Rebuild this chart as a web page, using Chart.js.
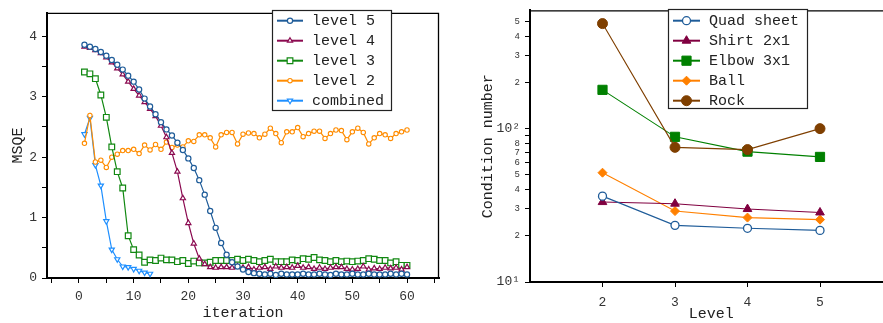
<!DOCTYPE html>
<html>
<head>
<meta charset="utf-8">
<script src="https://cdn.jsdelivr.net/npm/chart.js@4.4.0/dist/chart.umd.min.js"></script>
<style>
  html, body { margin: 0; padding: 0; background: #fff; overflow: hidden; width: 883px; height: 323px; }
  #izq { position: absolute; left: 0; top: 0; }
  #der { position: absolute; left: 460px; top: 0; }
</style>
</head>
<body>
<canvas id="izq" width="460" height="323"></canvas>
<canvas id="der" width="440" height="323"></canvas>
<script>
const FUENTE = '"Liberation Mono", "Courier New", monospace';

// ---- grafico izquierdo: MSQE por iteracion ----
const iteraciones = Array.from({ length: 60 }, (_, i) => i + 1);
const level5 = [3.86, 3.83, 3.79, 3.74, 3.68, 3.61, 3.53, 3.45, 3.35, 3.25, 3.12, 2.97, 2.84, 2.71, 2.58, 2.46,
  2.36, 2.24, 2.12, 1.98, 1.82, 1.62, 1.38, 1.11, 0.83, 0.58, 0.385, 0.26, 0.19, 0.14, 0.10, 0.08,
  0.07, 0.06, 0.07, 0.05, 0.07, 0.06, 0.06, 0.06, 0.07, 0.06, 0.06, 0.07, 0.06, 0.05, 0.07, 0.06,
  0.06, 0.07, 0.06, 0.06, 0.07, 0.06, 0.06, 0.06, 0.07, 0.06, 0.07, 0.06];
const level4 = [3.83, 3.81, 3.77, 3.72, 3.65, 3.57, 3.47, 3.37, 3.25, 3.13, 3.02, 2.91, 2.80, 2.68, 2.52, 2.33,
  2.07, 1.76, 1.32, 0.91, 0.57, 0.32, 0.23,
  0.18, 0.17, 0.18, 0.18, 0.17, 0.19, 0.17, 0.18, 0.14, 0.17, 0.18, 0.15, 0.19, 0.17, 0.18, 0.17,
  0.20, 0.17, 0.18, 0.15, 0.17, 0.15, 0.17, 0.18, 0.18, 0.15, 0.14, 0.15, 0.19, 0.14, 0.16, 0.15,
  0.17, 0.16, 0.17, 0.14, 0.18];
const level3 = [3.41, 3.38, 3.30, 3.03, 2.66, 2.17, 1.76, 1.49, 0.70, 0.47, 0.38, 0.26, 0.30, 0.29, 0.33, 0.30,
  0.30, 0.27, 0.29, 0.24, 0.28, 0.25,
  0.25, 0.26, 0.29, 0.29, 0.29, 0.29, 0.31, 0.29, 0.31, 0.29, 0.27, 0.29, 0.31, 0.27, 0.27, 0.27,
  0.30, 0.29, 0.32, 0.31, 0.34, 0.30, 0.29, 0.27, 0.29, 0.27, 0.28, 0.27, 0.28, 0.29, 0.32, 0.31,
  0.29, 0.29, 0.25, 0.27, 0.21, 0.21];
const level2 = [2.23, 2.69, 1.92, 1.95, 1.83, 2.00, 2.05, 2.11, 2.11, 2.13, 2.06, 2.20, 2.12, 2.21, 2.13, 2.25,
  2.16, 2.20, 2.17, 2.27, 2.26, 2.37,
  2.37, 2.32, 2.17, 2.37, 2.41, 2.41, 2.22, 2.38, 2.40, 2.39, 2.32, 2.38, 2.48, 2.39, 2.24, 2.42,
  2.42, 2.49, 2.34, 2.39, 2.43, 2.43, 2.31, 2.39, 2.45, 2.44, 2.29, 2.42, 2.48, 2.41, 2.22, 2.32,
  2.39, 2.37, 2.31, 2.39, 2.42, 2.45];
const combined = [2.38, 2.65, 1.87, 1.53, 0.94, 0.47, 0.31, 0.19, 0.18, 0.15, 0.12, 0.09, 0.07];

const xTicksIzq = [-5, 0, 5, 10, 15, 20, 25, 30, 35, 40, 45, 50, 55, 60, 65];
const xEtiquetasIzq = [0, 10, 20, 30, 40, 50, 60];
const yTicksIzq = [0, 0.5, 1, 1.5, 2, 2.5, 3, 3.5, 4];
const yEtiquetasIzq = [0, 1, 2, 3, 4];

// ---- grafico derecho: numero de condicion por nivel ----
const niveles = [2, 3, 4, 5];
const quadSheet = [36.3, 23.4, 22.4, 21.7];
const shirt2x1 = [33.2, 32.4, 29.9, 28.4];
const elbow3x1 = [179, 88.4, 70.8, 65.4];
const ball = [51.6, 29.0, 26.3, 25.5];
const rock = [484, 75.5, 73, 100];

const yTicksDer = [10, 20, 30, 40, 50, 60, 70, 80, 90, 100, 200, 300, 400, 500];

const aPuntos = (xs, ys) => ys.map((y, i) => ({ x: xs[i], y: y }));

// leyenda dibujada dentro del area (como en la figura original)
const leyendaCaja = {
  id: 'leyendaCaja',
  afterDraw(chart, args, o) {
    const ctx = chart.ctx;
    ctx.save();
    ctx.fillStyle = '#fff';
    ctx.fillRect(o.x, o.y, o.w, o.h);
    ctx.strokeStyle = '#222';
    ctx.lineWidth = 1.2;
    ctx.strokeRect(o.x + 0.5, o.y + 0.5, o.w, o.h);
    chart.data.datasets.forEach((ds, i) => {
      const y = o.y + o.primera + i * o.fila;
      ctx.strokeStyle = ds.borderColor;
      ctx.lineWidth = 2;
      ctx.beginPath();
      ctx.moveTo(o.x1, y);
      ctx.lineTo(o.x2, y);
      ctx.stroke();
      ctx.fillStyle = ds.pointBackgroundColor;
      ctx.strokeStyle = ds.borderColor;
      ctx.lineWidth = ds.pointBorderWidth || 1;
      Chart.helpers.drawPoint(ctx, {
        pointStyle: ds.pointStyle,
        radius: ds.pointRadius,
        rotation: ds.pointRotation || 0,
        borderWidth: ds.pointBorderWidth || 1
      }, (o.x1 + o.x2) / 2, y);
      ctx.fillStyle = '#222';
      ctx.font = o.fuente;
      ctx.textBaseline = 'middle';
      ctx.fillText(ds.label, o.tx, y);
    });
    ctx.restore();
  }
};

// marco superior/derecho
const marco = {
  id: 'marco',
  beforeDatasetsDraw(chart) {
    const { left, top, right, bottom } = chart.chartArea;
    const ctx = chart.ctx;
    ctx.save();
    ctx.strokeStyle = '#000';
    ctx.lineWidth = 1.3;
    ctx.beginPath();
    ctx.moveTo(left, top + 0.5);
    ctx.lineTo(right - 0.5, top + 0.5);
    ctx.lineTo(right - 0.5, bottom);
    ctx.stroke();
    ctx.restore();
  }
};

const ejeComun = {
  grid: { drawOnChartArea: false, drawTicks: true, tickLength: 5, color: '#000' },
  border: { color: '#000', width: 2 }
};

new Chart(document.getElementById('izq'), {
  type: 'line',
  data: {
    datasets: [
      { label: 'level 5', data: aPuntos(iteraciones, level5), borderColor: '#1f5c99', pointBackgroundColor: '#fff',
        pointStyle: 'circle', pointRadius: 2.6, pointBorderWidth: 1.2, borderWidth: 1.2 },
      { label: 'level 4', data: aPuntos(iteraciones, level4), borderColor: '#8b0a50', pointBackgroundColor: '#fff',
        pointStyle: 'triangle', pointRadius: 3, pointBorderWidth: 1.2, borderWidth: 1.2 },
      { label: 'level 3', data: aPuntos(iteraciones, level3), borderColor: '#118811', pointBackgroundColor: '#fff',
        pointStyle: 'rect', pointRadius: 4, pointBorderWidth: 1.2, borderWidth: 1.2 },
      { label: 'level 2', data: aPuntos(iteraciones, level2), borderColor: '#ff8c00', pointBackgroundColor: '#fff',
        pointStyle: 'circle', pointRadius: 2.2, pointBorderWidth: 1.1, borderWidth: 1.2 },
      { label: 'combined', data: aPuntos(iteraciones, combined), borderColor: '#1e8fff', pointBackgroundColor: '#fff',
        pointStyle: 'triangle', pointRotation: 180, pointRadius: 3, pointBorderWidth: 1.2, borderWidth: 1.2 }
    ]
  },
  options: {
    responsive: false,
    animation: false,
    layout: { padding: { top: 11, right: 21, left: 0, bottom: 0 } },
    elements: { line: { tension: 0 } },
    plugins: {
      legend: { display: false },
      tooltip: { enabled: false },
      leyendaCaja: { x: 272, y: 10, w: 119, h: 100, primera: 10.7, fila: 20, x1: 277, x2: 303, tx: 312,
        fuente: '15px ' + FUENTE }
    },
    scales: {
      x: {
        ...ejeComun,
        type: 'linear', min: -5.85, max: 65.85,
        afterBuildTicks: (s) => { s.ticks = xTicksIzq.map((v) => ({ value: v })); },
        afterFit: (s) => { s.height = 45; },
        ticks: { callback: (v) => (xEtiquetasIzq.includes(v) ? String(v) : ''), autoSkip: false, maxRotation: 0,
          font: { family: FUENTE, size: 13 }, color: '#333', padding: 6 },
        title: { display: true, text: 'iteration', font: { family: FUENTE, size: 15 }, color: '#222',
          padding: { top: 0, bottom: 1 } }
      },
      y: {
        ...ejeComun,
        type: 'linear', min: 0, max: 4.39,
        afterBuildTicks: (s) => { s.ticks = yTicksIzq.map((v) => ({ value: v })); },
        afterFit: (s) => { s.width = 47; },
        ticks: { callback: (v) => (yEtiquetasIzq.includes(v) ? String(v) : ''), autoSkip: false,
          font: { family: FUENTE, size: 13 }, color: '#333', padding: 5 },
        title: { display: true, text: 'MSQE', font: { family: FUENTE, size: 15 }, color: '#222',
          padding: { top: 9, bottom: 0 } }
      }
    }
  },
  plugins: [marco, leyendaCaja]
});

const etiquetaLog = (v) => {
  if (v === 10) return '10\u00b9';
  if (v === 100) return '10\u00b2';
  const d = v < 100 ? v / 10 : v / 100;
  return d <= 8 ? String(d) : '';
};

new Chart(document.getElementById('der'), {
  type: 'line',
  data: {
    datasets: [
      { label: 'Quad sheet', data: aPuntos(niveles, quadSheet), borderColor: '#1f5c99', pointBackgroundColor: '#fff',
        pointStyle: 'circle', pointRadius: 4, pointBorderWidth: 1.3, borderWidth: 1.1 },
      { label: 'Shirt 2x1', data: aPuntos(niveles, shirt2x1), borderColor: '#800040', pointBackgroundColor: '#800040',
        pointStyle: 'triangle', pointRadius: 5, pointBorderWidth: 1, borderWidth: 1.1 },
      { label: 'Elbow 3x1', data: aPuntos(niveles, elbow3x1), borderColor: '#008000', pointBackgroundColor: '#008000',
        pointStyle: 'rect', pointRadius: 6.5, pointBorderWidth: 1, borderWidth: 1.1 },
      { label: 'Ball', data: aPuntos(niveles, ball), borderColor: '#ff8000', pointBackgroundColor: '#ff8000',
        pointStyle: 'rectRot', pointRadius: 4.5, pointBorderWidth: 1, borderWidth: 1.1 },
      { label: 'Rock', data: aPuntos(niveles, rock), borderColor: '#7f3f00', pointBackgroundColor: '#7f3f00',
        pointStyle: 'circle', pointRadius: 5, pointBorderWidth: 1, borderWidth: 1.1, order: -1 }
    ]
  },
  options: {
    responsive: false,
    animation: false,
    layout: { padding: { top: 7, right: 6, left: 0, bottom: 0 } },
    elements: { line: { tension: 0 } },
    plugins: {
      legend: { display: false },
      tooltip: { enabled: false },
      leyendaCaja: { x: 208, y: 9, w: 139, h: 99, primera: 11.7, fila: 20, x1: 213, x2: 240, tx: 249,
        fuente: '15px ' + FUENTE }
    },
    scales: {
      x: {
        ...ejeComun,
        type: 'linear', min: 1, max: 6,
        afterBuildTicks: (s) => { s.ticks = niveles.map((v) => ({ value: v })); },
        afterFit: (s) => { s.height = 41; },
        ticks: { autoSkip: false, maxRotation: 0, font: { family: FUENTE, size: 13 }, color: '#333', padding: 8 },
        title: { display: true, text: 'Level', font: { family: FUENTE, size: 15 }, color: '#222',
          padding: { top: 0, bottom: 0 } }
      },
      y: {
        ...ejeComun,
        type: 'logarithmic', min: 10, max: 590,
        afterBuildTicks: (s) => { s.ticks = yTicksDer.map((v) => ({ value: v })); },
        afterFit: (s) => { s.width = 70; },
        ticks: { callback: etiquetaLog, autoSkip: false, color: '#333', padding: 5,
          font: (c) => ({ family: FUENTE, size: (c.tick && (c.tick.value === 10 || c.tick.value === 100)) ? 13 : 9 }) },
        title: { display: true, text: 'Condition number', font: { family: FUENTE, size: 15 }, color: '#222',
          padding: { top: 19, bottom: 0 } }
      }
    }
  },
  plugins: [marco, leyendaCaja]
});
</script>
</body>
</html>
